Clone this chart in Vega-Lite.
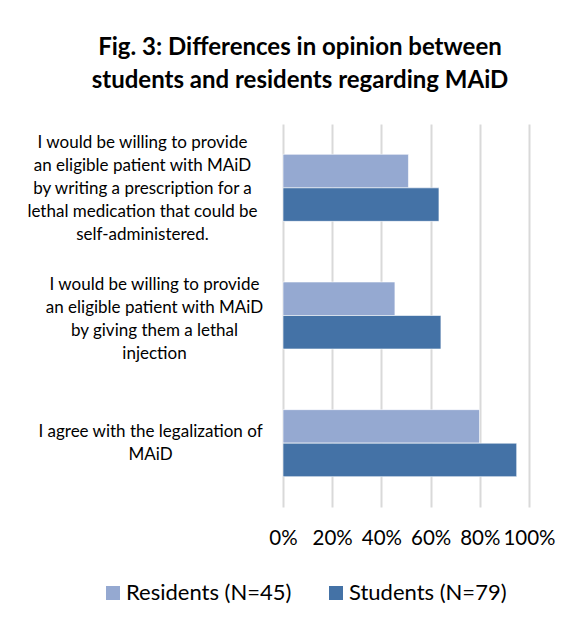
{
  "$schema": "https://vega.github.io/schema/vega-lite/v6.json",
  "width": 246,
  "height": 383,
  "autosize": {"type": "none"},
  "padding": {"left": 283, "top": 124, "right": 50, "bottom": 120},
  "background": "white",
  "title": {
    "text": ["Fig. 3: Differences in opinion between", "students and residents regarding MAiD"],
    "font": "Lato",
    "fontSize": 24,
    "fontWeight": "bold",
    "color": "#000000",
    "lineHeight": 33,
    "anchor": "middle",
    "frame": "group",
    "dx": -106,
    "offset": 31
  },
  "data": {
    "values": [
      {"question": "I would be willing to provide|an eligible patient with MAiD|by writing a prescription for a|lethal medication that could be|self-administered.", "group": "Residents (N=45)", "value": 0.51},
      {"question": "I would be willing to provide|an eligible patient with MAiD|by writing a prescription for a|lethal medication that could be|self-administered.", "group": "Students (N=79)", "value": 0.634},
      {"question": "I would be willing to provide|an eligible patient with MAiD|by giving them a lethal|injection", "group": "Residents (N=45)", "value": 0.455},
      {"question": "I would be willing to provide|an eligible patient with MAiD|by giving them a lethal|injection", "group": "Students (N=79)", "value": 0.642},
      {"question": "I agree with the legalization of|MAiD", "group": "Residents (N=45)", "value": 0.799},
      {"question": "I agree with the legalization of|MAiD", "group": "Students (N=79)", "value": 0.95}
    ]
  },
  "mark": {"type": "bar", "stroke": "#ffffff", "strokeOpacity": 0.6, "strokeWidth": 1},
  "encoding": {
    "y": {
      "field": "question",
      "type": "nominal",
      "sort": null,
      "scale": {"paddingInner": 0.475, "paddingOuter": 0.2375},
      "axis": {
        "title": null,
        "domain": false,
        "ticks": false,
        "labelExpr": "split(datum.label, '|')",
        "labelAlign": "center",
        "labelBaseline": "middle",
        "labelPadding": {
          "condition": [
            {"test": "indexof(datum.value, 'self') >= 0", "value": 141},
            {"test": "indexof(datum.value, 'injection') >= 0", "value": 129}
          ],
          "value": 133
        },
        "labelOffset": {
          "condition": [
            {"test": "indexof(datum.value, 'self') >= 0", "value": -45},
            {"test": "indexof(datum.value, 'injection') >= 0", "value": -31}
          ],
          "value": -11.5
        },
        "labelFont": "Lato",
        "labelFontSize": 17,
        "labelLineHeight": 23,
        "labelColor": "#000000",
        "labelLimit": 400
      }
    },
    "yOffset": {
      "field": "group",
      "type": "nominal",
      "sort": ["Residents (N=45)", "Students (N=79)"],
      "scale": {"paddingInner": 0, "paddingOuter": 0}
    },
    "x": {
      "field": "value",
      "type": "quantitative",
      "scale": {"domain": [0, 1]},
      "axis": {
        "title": null,
        "values": [0, 0.2, 0.4, 0.6, 0.8, 1],
        "format": ".0%",
        "domain": false,
        "ticks": false,
        "grid": true,
        "gridColor": "#d9d9d9",
        "gridWidth": 2,
        "labelFont": "Lato",
        "labelFontSize": 20.5,
        "labelColor": "#000000",
        "labelPadding": 21,
        "labelFlush": false,
        "labelOverlap": false
      }
    },
    "color": {
      "field": "group",
      "type": "nominal",
      "scale": {"domain": ["Residents (N=45)", "Students (N=79)"], "range": ["#95a9d1", "#4472a6"]},
      "legend": {
        "title": null,
        "orient": "none",
        "direction": "horizontal",
        "legendX": -181,
        "legendY": 458,
        "symbolType": "square",
        "symbolSize": 196,
        "symbolStrokeWidth": 0,
        "labelFont": "Lato",
        "labelFontSize": 22,
        "labelColor": "#000000",
        "labelOffset": 2,
        "columnPadding": 33,
        "labelLimit": 300
      }
    }
  },
  "config": {
    "view": {"stroke": null}
  }
}
